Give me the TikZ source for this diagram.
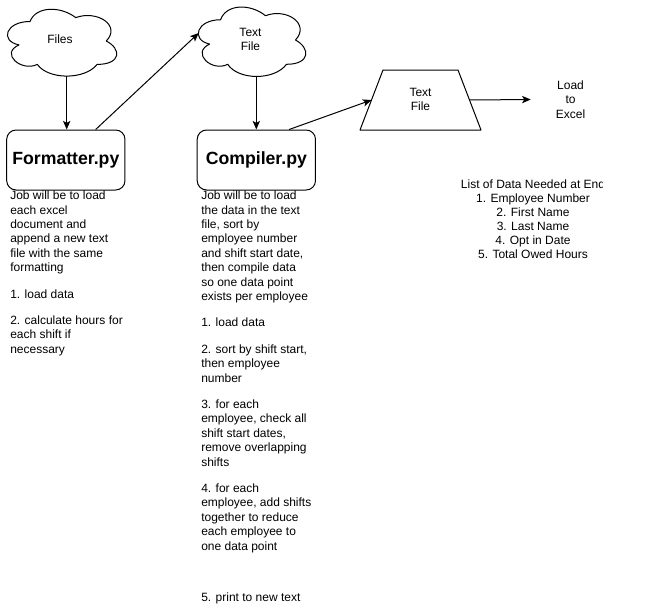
\documentclass[tikz,border=0pt]{standalone}
\usepackage{fontspec}
\setmainfont{Liberation Sans}
\usetikzlibrary{arrows.meta,calc}
\newcommand{\drawiocloud}[4]{%
 \draw[ln] ({#1+0.25*#3},{#2+0.25*#4})
 .. controls ({#1+0.05*#3},{#2+0.25*#4}) and ({#1},{#2+0.5*#4}) .. ({#1+0.16*#3},{#2+0.55*#4})
 .. controls ({#1},{#2+0.66*#4}) and ({#1+0.18*#3},{#2+0.9*#4}) .. ({#1+0.31*#3},{#2+0.8*#4})
 .. controls ({#1+0.4*#3},{#2+#4}) and ({#1+0.7*#3},{#2+#4}) .. ({#1+0.8*#3},{#2+0.8*#4})
 .. controls ({#1+#3},{#2+0.8*#4}) and ({#1+#3},{#2+0.6*#4}) .. ({#1+0.875*#3},{#2+0.5*#4})
 .. controls ({#1+#3},{#2+0.3*#4}) and ({#1+0.8*#3},{#2+0.1*#4}) .. ({#1+0.625*#3},{#2+0.2*#4})
 .. controls ({#1+0.5*#3},{#2+0.05*#4}) and ({#1+0.3*#3},{#2+0.05*#4}) .. ({#1+0.25*#3},{#2+0.25*#4})
 -- cycle;}
\tikzset{
 ln/.style={line width=0.75pt, draw=black, line join=round},
 arr/.style={line width=0.75pt, draw=black, -{Stealth[length=6.5pt,width=5.5pt,inset=1.6pt]}},
 pybox/.style={draw, line width=0.75pt, rounded corners=7pt, minimum width=88.7pt, minimum height=45pt, inner sep=0pt, font=\fontsize{13.25pt}{15pt}\selectfont\bfseries},
 desc/.style={anchor=north west, inner sep=0pt, align=left, font=\fontsize{9pt}{10.8pt}\selectfont},
 lbl/.style={inner sep=0pt, align=center, font=\fontsize{9pt}{10.8pt}\selectfont},
}
\begin{document}
\begin{tikzpicture}[x=0.75pt,y=-0.75pt]
\useasboundingbox (0,0) rectangle (661,611);
% clouds
\drawiocloud{-0.5}{2}{122}{78}
\drawiocloud{190.5}{-0.5}{120}{81}
\node[lbl] (files) at (60,39.3) {Files};
\node[lbl] (tf) at (250.5,39.5) {Text\\File};
\coordinate (filesout) at (66.7,76);
\coordinate (tfin) at (198.7,33);
\coordinate (tfout) at (256.3,76.5);
% boxes
\node[pybox] (fmt) at (65.85,160) {Formatter.py};
\node[pybox] (cmp) at (256.35,160) {Compiler.py};
% trapezoid
\draw[ln] (383,70) -- (458,70) -- (481,130) -- (360,130) -- cycle;
\node[lbl] (trp) at (420.5,99.5) {Text\\File};
\coordinate (trpl) at (371.5,100);
\coordinate (trpr) at (469.5,100);
\node[lbl, minimum width=59.25pt] (excel) at (570.5,99.5) {Load\\to\\Excel};
% connectors
\draw[arr] (filesout) -- (filesout |- fmt.north);
\draw[arr] ($(fmt.north west)!0.75!(fmt.north east)$) -- (tfin);
\draw[arr] (tfout) -- (tfout |- cmp.north);
\draw[arr] ($(cmp.north west)!0.775!(cmp.north east)$) -- (trpl);
\draw[arr] (trpr) -- (excel.west);
% descriptions
\node[desc] (fmtdesc) at (10,190.7) {Job will be to load\\
each excel\\
document and\\
append a new text\\
file with the same\\
formatting\\[9pt]
1. load data\\[9pt]
2. calculate hours for\\
each shift if\\
necessary};
\node[desc] (cmpdesc) at (201,190.7) {Job will be to load\\
the data in the text\\
file, sort by\\
employee number\\
and shift start date,\\
then compile data\\
so one data point\\
exists per employee\\[9pt]
1. load data\\[9pt]
2. sort by shift start,\\
then employee\\
number\\[9pt]
3. for each\\
employee, check all\\
shift start dates,\\
remove overlapping\\
shifts\\[9pt]
4. for each\\
employee, add shifts\\
together to reduce\\
each employee to\\
one data point\\[27.9pt]
5. print to new text};
\begin{scope}
\clip (0,0) rectangle (602,611);
\node[lbl, anchor=north, font=\fontsize{9pt}{10.55pt}\selectfont] (datalist) at (533,179.3) {List of Data Needed at End\\
1. Employee Number\\
2. First Name\\
3. Last Name\\
4. Opt in Date\\
5. Total Owed Hours};
\end{scope}
\end{tikzpicture}
\end{document}
